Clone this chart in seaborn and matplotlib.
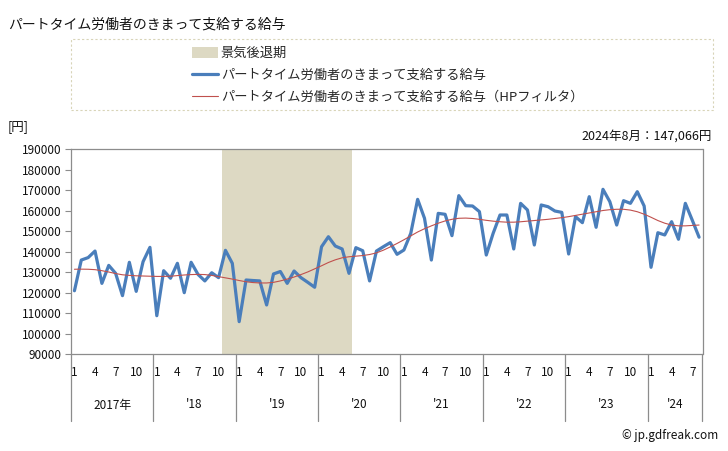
import numpy as np
import pandas as pd
import matplotlib
matplotlib.use("Agg")
import matplotlib.pyplot as plt
from matplotlib.patches import Patch, Rectangle
from matplotlib.lines import Line2D
import seaborn as sns

# ---------------- data ----------------
title = "パートタイム労働者のきまって支給する給与"
series_name = "パートタイム労働者のきまって支給する給与"
hp_name = "パートタイム労働者のきまって支給する給与（HPフィルタ）"
recession_name = "景気後退期"
latest_note = "2024年8月：147,066円"
unit_label = "[円]"
credit = "© jp.gdfreak.com"

years = [2017, 2018, 2019, 2020, 2021, 2022, 2023, 2024]
year_labels = ["2017年", "'18", "'19", "'20", "'21", "'22", "'23", "'24"]
month_tick_labels = ["1", "4", "7", "10"]
n_months = 92  # 2017-01 .. 2024-08

wage = [
    120900, 135900, 137100, 140300, 124500, 133300, 129400, 118500, 134800, 120600, 135100, 142100,
    108700, 130700, 127000, 134300, 119950, 134800, 128900, 125700, 129700, 127300, 140650, 134300,
    105800, 126150, 125900, 125700, 113950, 129100, 130300, 124500, 130550, 127300, 125000, 122600,
    142400, 147300, 142750, 141300, 129400, 141950, 140450, 125700, 140300, 142400, 144400, 138700,
    140800, 148950, 165550, 156300, 135900, 158700, 158250, 147800, 167350, 162450, 162300, 159550,
    138350, 148950, 157900, 157900, 141300, 163600, 160350, 143250, 162800, 161950, 159850, 159200,
    138850, 157100, 154150, 166850, 151900, 170450, 164400, 153000, 164900, 163600, 169300, 162300,
    132350, 149250, 148150, 154650, 146050, 163600, 155450, 147066,
]

wage_hp = [
    131400, 131450, 131400, 131200, 130700, 130050, 129300, 128700, 128400, 128200, 128100, 128000,
    127900, 127900, 128000, 128300, 128600, 128800, 128900, 128800, 128400, 127800, 127200, 126600,
    125900, 125300, 124900, 124700, 124700, 125000, 125700, 126600, 127600, 128800, 130100, 131600,
    133100, 134700, 136000, 137000, 137500, 137800, 138100, 138600, 139400, 140700, 142300, 144000,
    145800, 147700, 149600, 151200, 152600, 153900, 155000, 155800, 156300, 156400, 156200, 155800,
    155300, 154900, 154600, 154400, 154400, 154600, 154900, 155200, 155500, 155800, 156200, 156600,
    157100, 157700, 158300, 158900, 159500, 160100, 160500, 160700, 160700, 160300, 159500, 158300,
    156800, 155200, 153900, 153000, 152600, 152600, 152800, 153000,
]

# recession: 2018-11 .. 2020-05 (month indices)
recession_start = 22
recession_end = 40

y_ticks = list(range(90000, 190001, 10000))

# ---------------- style ----------------
sns.set_theme(style="white")
plt.rcParams["font.family"] = ["Noto Sans CJK JP", "DejaVu Sans"]

W, H = 728, 451
fig = plt.figure(figsize=(W / 100, H / 100), dpi=100)

L, R, T, B = 71, 702.5, 149.3, 354
ax = fig.add_axes([L / W, 1 - B / H, (R - L) / W, (B - T) / H])

def fx(px):
    return px / W

def fy(py):
    return 1 - py / H

df = pd.DataFrame({"idx": np.arange(n_months), "wage": wage, "hp": wage_hp})

blue = "#4a7ebb"
red = "#c0504d"
shade = "#ddd9c3"
grey = "#8c8c8c"

ax.axvspan(recession_start - 0.5, recession_end + 0.5, color=shade, lw=0, zorder=0)
sns.lineplot(data=df, x="idx", y="wage", ax=ax, color=blue, lw=2.3, zorder=3, legend=False)
sns.lineplot(data=df, x="idx", y="hp", ax=ax, color=red, lw=0.8, zorder=4, legend=False)

ax.set_xlim(-0.5, n_months - 0.5)
ax.set_ylim(90000, 190000)
ax.set_yticks(y_ticks)
ax.set_yticklabels([str(v) for v in y_ticks], fontsize=8.5, color="#111111")
ax.set_xticks([])
ax.set_xlabel("")
ax.set_ylabel("")
ax.tick_params(axis="y", direction="out", length=4, width=0.8, color=grey, pad=3, left=True)
for s in ax.spines.values():
    s.set_color(grey)
    s.set_linewidth(0.9)

# x axis: month labels, year labels, separators
trans = ax.get_xaxis_transform()
h_ax = B - T
y_month = -(373 - B) / h_ax
y_year = -(405 - B) / h_ax
y_sep = -(421 - B) / h_ax
for k, yr in enumerate(years):
    start = k * 12
    for j, lab in enumerate(month_tick_labels):
        idx = start + j * 3
        if idx < n_months:
            ax.text(idx, y_month, lab, transform=trans, ha="center", va="center",
                    fontsize=8.5, color="#111111")
    end = min(start + 12, n_months)
    ax.text((start + end - 1) / 2, y_year, year_labels[k], transform=trans,
            ha="center", va="center", fontsize=8.5, color="#111111")
    ax.plot([start - 0.5, start - 0.5], [0, y_sep], transform=trans, color=grey,
            lw=0.9, clip_on=False)
ax.plot([n_months - 0.5, n_months - 0.5], [0, y_sep], transform=trans, color=grey,
        lw=0.9, clip_on=False)

# texts
fig.text(fx(8), fy(24), title, fontsize=10, ha="left", va="center", color="#111111")
fig.text(fx(8), fy(127), unit_label, fontsize=9, ha="left", va="center", color="#111111")
fig.text(fx(712), fy(136), latest_note, fontsize=9, ha="right", va="center", color="#111111")
fig.text(fx(718), fy(436), credit, fontsize=8.5, ha="right", va="center", color="#111111")

# legend box (dotted)
fig.patches.append(Rectangle((fx(71), fy(110)), fx(713) - fx(71), fy(39) - fy(110),
                             transform=fig.transFigure, fill=False,
                             edgecolor="#d8d4b8", lw=0.8, ls=(0, (2, 2))))
handles = [
    Patch(facecolor=shade, edgecolor="none"),
    Line2D([0], [0], color=blue, lw=2.3),
    Line2D([0], [0], color=red, lw=0.8),
]
labels = [recession_name, series_name, hp_name]
fig.legend(handles, labels, loc="upper left", bbox_to_anchor=(fx(189), fy(44)),
           frameon=False, fontsize=9.5, handlelength=2.0, handleheight=0.9,
           handletextpad=0.2, labelspacing=0.68, borderaxespad=0, borderpad=0.2)

fig.savefig("out.png", dpi=100)
